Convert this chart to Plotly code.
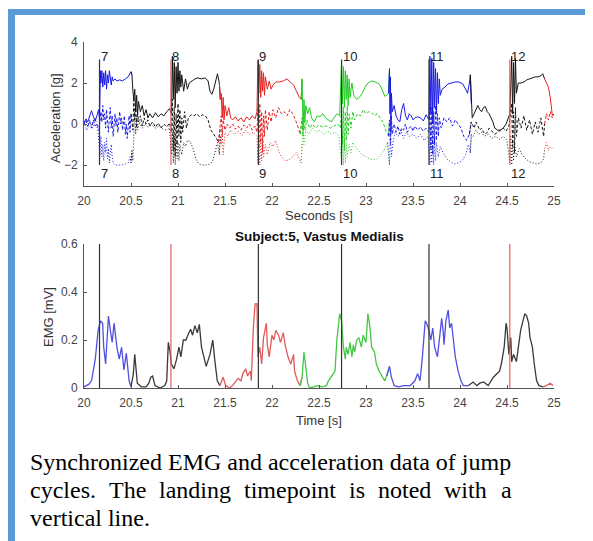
import plotly.graph_objects as go

# ---------------- data ----------------
seg_bounds = [20.0, 20.51, 21.45, 22.32, 23.25, 24.12, 24.91, 25.0]
acc_colors = ["#1a1ae6", "#151515", "#e62020", "#22cc22", "#1a1ae6", "#151515", "#e62020"]
emg_colors = ["#5050e0", "#3a3a3a", "#e05a5a", "#45c845", "#5050e0", "#3a3a3a", "#e05a5a"]

landing_times = [20.165, 20.925, 21.855, 22.74, 23.67, 24.53]
landing_colors = ["#333333", "#e06060", "#333333", "#333333", "#333333", "#e06060"]
jump_numbers = ["7", "8", "9", "10", "11", "12"]

acc_x_ticks = [20, 20.5, 21, 21.5, 22, 22.5, 23, 23.5, 24, 24.5, 25]
acc_x_ticktext = ["20", "20.5", "21", "21.5", "22", "22.5", "23", "23.5", "24", "24.5", "25"]
acc_y_ticks = [-2, 0, 2, 4]
emg_y_ticks = [0, 0.2, 0.4, 0.6]
emg_y_ticktext = ["0", "0.2", "0.4", "0.6"]

# acceleration, solid trace
acc_solid_t = [
    20.00, 20.02, 20.04, 20.06, 20.08, 20.10, 20.12, 20.14, 20.155, 20.165,
    20.175, 20.18, 20.19, 20.20, 20.21, 20.22, 20.23, 20.24, 20.25, 20.26,
    20.27, 20.28, 20.29, 20.30, 20.31, 20.33, 20.35, 20.38, 20.41, 20.44,
    20.47, 20.50, 20.51, 20.52, 20.53, 20.54, 20.55, 20.56, 20.57, 20.58,
    20.60, 20.62, 20.64, 20.66, 20.68, 20.70, 20.73, 20.76, 20.79, 20.82,
    20.85, 20.88, 20.91, 20.93, 20.94, 20.95, 20.96, 20.97, 20.98, 20.99,
    21.00, 21.01, 21.02, 21.03, 21.04, 21.06, 21.08, 21.10, 21.12, 21.15,
    21.18, 21.21, 21.25, 21.29, 21.32, 21.34, 21.36, 21.38, 21.40, 21.42,
    21.44, 21.45, 21.46, 21.47, 21.48, 21.49, 21.50, 21.52, 21.54, 21.56,
    21.58, 21.61, 21.64, 21.67, 21.70, 21.73, 21.76, 21.79, 21.82, 21.84,
    21.85, 21.86, 21.87, 21.88, 21.89, 21.90, 21.91, 21.92, 21.93, 21.95,
    21.97, 21.99, 22.01, 22.04, 22.08, 22.12, 22.16, 22.20, 22.23, 22.26,
    22.29, 22.31, 22.32, 22.325, 22.33, 22.34, 22.35, 22.36, 22.38, 22.40,
    22.42, 22.45, 22.48, 22.51, 22.54, 22.57, 22.60, 22.63, 22.66, 22.69,
    22.72, 22.74, 22.75, 22.76, 22.77, 22.78, 22.79, 22.80, 22.81, 22.82,
    22.83, 22.85, 22.87, 22.90, 22.93, 22.96, 22.99, 23.02, 23.06, 23.10,
    23.14, 23.17, 23.20, 23.22, 23.24, 23.25, 23.255, 23.26, 23.265, 23.27,
    23.28, 23.30, 23.32, 23.34, 23.36, 23.38, 23.40, 23.42, 23.44, 23.46,
    23.48, 23.50, 23.52, 23.55, 23.58, 23.61, 23.64, 23.67, 23.68, 23.69,
    23.70, 23.71, 23.72, 23.73, 23.74, 23.75, 23.76, 23.77, 23.78, 23.79,
    23.81, 23.84, 23.87, 23.91, 23.95, 23.99, 24.03, 24.06, 24.08, 24.10,
    24.11, 24.12, 24.13, 24.15, 24.17, 24.19, 24.21, 24.23, 24.25, 24.27,
    24.29, 24.31, 24.33, 24.35, 24.37, 24.40, 24.43, 24.46, 24.49, 24.51,
    24.53, 24.55, 24.56, 24.57, 24.58, 24.59, 24.60, 24.62, 24.65, 24.68,
    24.71, 24.74, 24.77, 24.80, 24.83, 24.86, 24.88, 24.90, 24.92, 24.94,
    24.96, 24.97, 24.98, 24.99, 25.00,
]
acc_solid_v = [
    0.05, 0.25, 0.10, 0.40, 0.65, 0.35, 0.15, 0.45, 0.70, 0.20,
    2.60, 2.00, 2.60, 1.80, 2.50, 1.90, 2.60, 1.70, 2.40, 2.00,
    2.60, 2.20, 1.90, 2.30, 2.10, 2.20, 2.10, 2.15, 2.10, 2.20,
    2.30, 2.55, 2.40, 1.60, 1.20, 1.70, 0.60, 1.40, 0.50, 1.10,
    0.60, 0.90, 0.40, 0.70, 0.30, 0.50, 0.30, 0.55, 0.35, 0.50,
    0.40, 0.60, 0.75, 0.50, 3.30, 1.20, 3.00, 0.80, 2.80, 1.50,
    3.00, 1.60, 2.60, 1.80, 2.40, 1.60, 2.20, 1.70, 2.00, 2.10,
    2.20, 2.25, 2.20, 2.25, 2.10, 1.60, 1.45, 1.70, 2.10, 2.45,
    2.00, 1.20, 1.50, 0.30, 1.30, 0.20, 0.90, 0.40, 0.80, 0.30,
    0.20, 0.35, 0.15, 0.30, 0.10, 0.35, 0.20, 0.40, 0.25, 0.60,
    3.10, 1.50, 2.90, 1.30, 2.60, 1.60, 2.50, 1.40, 2.30, 1.70,
    2.10, 1.70, 1.90, 2.05, 2.05, 2.10, 2.20, 2.05, 1.90, 1.60,
    1.30, 1.20, 2.20, 1.00, -0.30, 1.20, 0.10, 0.90, 0.50, 0.80,
    0.30, 0.10, 0.40, 0.35, 0.50, 0.30, 0.20, 0.10, 0.30, 0.50,
    0.40, 3.10, 1.00, 2.80, 0.80, 2.60, 1.20, 2.40, 0.90, 2.20,
    1.30, 2.00, 1.40, 1.20, 1.30, 1.50, 1.80, 2.00, 2.10, 2.05,
    1.95, 1.70, 1.35, 1.40, 1.50, 2.70, 0.50, 2.30, -0.40, 1.50,
    0.60, 0.90, 0.40, 0.20, 0.10, 0.70, 1.00, 0.40, 0.20, 0.50,
    0.40, 0.20, 0.30, 0.35, 0.30, 0.15, 0.45, 0.20, 3.30, 0.50,
    3.20, 0.00, 3.00, 0.80, 2.70, 0.50, 2.50, 1.00, 2.20, 1.40,
    1.70, 1.80, 1.95, 2.00, 2.05, 2.05, 1.95, 1.70, 1.50, 2.00,
    2.40, 1.00, 0.30, 0.50, 0.70, 0.90, 0.70, 0.60, 0.80, 0.85,
    0.60, 0.50, 0.30, 0.10, -0.20, -0.30, -0.30, -0.20, 0.00, 0.30,
    0.50, 3.30, 0.50, 3.00, 1.00, 3.20, 1.50, 2.00, 2.00, 2.05,
    2.15, 2.20, 2.25, 2.30, 2.30, 2.35, 2.45, 2.20, 2.00, 1.80,
    1.30, 0.80, 0.50, 0.40, 0.50,
]

# acceleration, dashed trace
acc_dash_t = [
    20.00, 20.02, 20.04, 20.06, 20.08, 20.10, 20.12, 20.14, 20.16, 20.18,
    20.19, 20.20, 20.21, 20.22, 20.23, 20.24, 20.25, 20.26, 20.27, 20.28,
    20.29, 20.30, 20.31, 20.32, 20.33, 20.34, 20.35, 20.36, 20.37, 20.38,
    20.39, 20.40, 20.41, 20.42, 20.43, 20.44, 20.45, 20.46, 20.47, 20.48,
    20.49, 20.50, 20.51, 20.52, 20.53, 20.54, 20.55, 20.56, 20.57, 20.58,
    20.60, 20.62, 20.64, 20.66, 20.68, 20.70, 20.73, 20.76, 20.79, 20.82,
    20.85, 20.88, 20.91, 20.93, 20.94, 20.95, 20.96, 20.97, 20.98, 20.99,
    21.00, 21.01, 21.02, 21.03, 21.04, 21.05, 21.07, 21.09, 21.11, 21.14,
    21.17, 21.20, 21.23, 21.26, 21.29, 21.32, 21.35, 21.38, 21.41, 21.43,
    21.45, 21.46, 21.47, 21.48, 21.50, 21.52, 21.55, 21.58, 21.61, 21.64,
    21.67, 21.70, 21.73, 21.76, 21.79, 21.82, 21.84, 21.85, 21.86, 21.87,
    21.88, 21.89, 21.90, 21.91, 21.92, 21.93, 21.95, 21.97, 21.99, 22.01,
    22.04, 22.07, 22.10, 22.13, 22.16, 22.19, 22.22, 22.25, 22.28, 22.30,
    22.32, 22.33, 22.34, 22.35, 22.37, 22.40, 22.43, 22.46, 22.50, 22.54,
    22.58, 22.62, 22.66, 22.70, 22.73, 22.74, 22.75, 22.76, 22.77, 22.78,
    22.79, 22.80, 22.81, 22.82, 22.84, 22.86, 22.88, 22.91, 22.94, 22.97,
    23.00, 23.03, 23.06, 23.09, 23.12, 23.15, 23.18, 23.21, 23.24, 23.25,
    23.26, 23.27, 23.28, 23.30, 23.32, 23.34, 23.36, 23.38, 23.40, 23.42,
    23.44, 23.46, 23.48, 23.50, 23.52, 23.55, 23.58, 23.61, 23.64, 23.67,
    23.68, 23.69, 23.70, 23.71, 23.72, 23.73, 23.74, 23.75, 23.76, 23.77,
    23.78, 23.80, 23.83, 23.86, 23.89, 23.92, 23.95, 23.98, 24.01, 24.04,
    24.07, 24.10, 24.12, 24.13, 24.15, 24.17, 24.19, 24.21, 24.23, 24.25,
    24.27, 24.29, 24.31, 24.33, 24.35, 24.37, 24.40, 24.43, 24.46, 24.49,
    24.52, 24.55, 24.56, 24.57, 24.58, 24.59, 24.60, 24.62, 24.65, 24.68,
    24.71, 24.74, 24.77, 24.80, 24.83, 24.86, 24.89, 24.90, 24.92, 24.94,
    24.96, 24.98, 25.00,
]
acc_dash_v = [
    0.00, 0.20, -0.10, 0.10, -0.20, 0.20, -0.10, 0.00, -0.30, 0.60,
    0.10, 0.90, 0.20, 0.50, -0.20, 0.70, 0.10, -0.40, 0.30, 0.80,
    -0.20, 0.40, -0.60, 0.10, 0.50, -0.10, 0.30, -0.40, 0.20, 0.60,
    0.00, 0.30, -0.30, 0.10, 0.40, -0.50, 0.00, -0.70, -0.20, 0.40,
    -0.40, 0.50, 0.10, -0.30, 1.30, 0.20, 0.90, -0.20, 0.60, 0.10,
    0.40, -0.10, 0.30, 0.00, 0.20, -0.10, 0.10, -0.15, 0.05, -0.20,
    0.00, -0.15, 0.05, -0.40, 1.20, -1.30, 0.80, -1.60, 0.50, -1.00,
    1.00, -0.60, 0.70, -0.90, 0.30, -0.40, 0.60, -0.20, 0.30, 0.45,
    0.40, 0.50, 0.35, 0.45, 0.40, 0.20, -0.30, -0.50, -0.70, -0.90,
    -0.20, 0.40, -0.60, 0.20, -0.30, 0.00, -0.20, 0.00, -0.25, -0.10,
    -0.30, -0.05, -0.20, 0.00, -0.30, -0.10, -0.40, 0.80, -1.20, 1.00,
    -0.90, 0.60, -1.40, 0.40, -0.60, 0.70, -0.30, 0.60, 0.10, 0.70,
    0.30, 0.80, 0.50, 0.60, 0.40, 0.70, 0.50, 0.20, -0.20, -0.50,
    0.30, -0.60, 0.40, -0.30, 0.20, -0.20, 0.00, -0.20, -0.05, -0.15,
    -0.10, -0.20, -0.10, 0.00, -0.20, 1.00, -1.00, 0.80, -1.30, 0.60,
    -0.80, 0.90, -0.50, 0.50, -0.20, 0.60, 0.20, 0.50, 0.40, 0.70,
    0.50, 0.60, 0.55, 0.40, 0.50, 0.30, 0.10, -0.30, -0.60, 0.20,
    -1.00, 0.40, -0.50, 0.00, -0.40, -0.10, -0.50, -0.20, -0.30, 0.00,
    -0.40, -0.20, -0.10, -0.35, -0.10, -0.30, -0.15, -0.35, -0.20, -0.40,
    1.00, -1.20, 0.80, -1.50, 0.60, -1.00, 0.90, -0.80, 0.50, -0.60,
    0.30, -0.20, 0.30, 0.10, 0.30, -0.10, 0.20, 0.00, -0.20, -0.60,
    -0.80, -0.50, 0.10, 0.00, -0.20, 0.10, -0.10, -0.30, -0.20, -0.40,
    -0.50, -0.40, -0.20, -0.30, -0.45, -0.50, -0.40, -0.30, -0.20, -0.35,
    -0.10, 1.00, -1.10, 0.60, -1.40, 0.80, -0.60, 0.30, -0.20, 0.40,
    -0.30, 0.20, -0.50, 0.10, -0.40, 0.30, -0.60, 0.00, 0.50, 0.20,
    0.60, 0.30, 0.40,
]

# acceleration, dotted trace
acc_dot_t = [
    20.00, 20.03, 20.06, 20.09, 20.12, 20.15, 20.17, 20.18, 20.19, 20.20,
    20.21, 20.22, 20.23, 20.24, 20.25, 20.26, 20.27, 20.28, 20.29, 20.30,
    20.31, 20.33, 20.36, 20.40, 20.44, 20.47, 20.49, 20.50, 20.51, 20.52,
    20.53, 20.54, 20.55, 20.56, 20.57, 20.59, 20.62, 20.65, 20.68, 20.72,
    20.76, 20.80, 20.84, 20.88, 20.91, 20.93, 20.94, 20.95, 20.96, 20.97,
    20.98, 20.99, 21.00, 21.01, 21.02, 21.04, 21.06, 21.08, 21.10, 21.13,
    21.16, 21.19, 21.22, 21.26, 21.30, 21.34, 21.37, 21.40, 21.42, 21.44,
    21.45, 21.46, 21.47, 21.48, 21.50, 21.53, 21.56, 21.60, 21.64, 21.68,
    21.72, 21.76, 21.80, 21.84, 21.85, 21.86, 21.87, 21.88, 21.89, 21.90,
    21.91, 21.93, 21.95, 21.98, 22.01, 22.04, 22.07, 22.10, 22.14, 22.18,
    22.22, 22.26, 22.29, 22.31, 22.32, 22.33, 22.34, 22.36, 22.39, 22.43,
    22.47, 22.51, 22.55, 22.59, 22.63, 22.67, 22.71, 22.74, 22.75, 22.76,
    22.77, 22.78, 22.79, 22.80, 22.82, 22.84, 22.86, 22.89, 22.92, 22.96,
    23.00, 23.04, 23.08, 23.12, 23.16, 23.20, 23.23, 23.25, 23.26, 23.27,
    23.29, 23.31, 23.34, 23.37, 23.40, 23.43, 23.46, 23.50, 23.54, 23.58,
    23.62, 23.66, 23.68, 23.69, 23.70, 23.71, 23.72, 23.73, 23.74, 23.75,
    23.77, 23.79, 23.82, 23.86, 23.90, 23.94, 23.98, 24.02, 24.06, 24.09,
    24.11, 24.12, 24.14, 24.17, 24.20, 24.23, 24.26, 24.30, 24.34, 24.38,
    24.42, 24.46, 24.50, 24.53, 24.54, 24.55, 24.56, 24.57, 24.58, 24.60,
    24.63, 24.66, 24.70, 24.74, 24.78, 24.82, 24.86, 24.89, 24.90, 24.92,
    24.94, 24.96, 24.98, 25.00,
]
acc_dot_v = [
    0.10, -0.30, 0.20, -0.20, 0.30, -0.40, -1.50, -0.60, -1.60, -1.00,
    -1.80, -0.90, -1.40, -0.70, -1.70, -1.20, -1.90, -1.40, -1.00, -1.60,
    -1.90, -2.00, -2.00, -2.00, -1.95, -1.90, -1.60, -1.90, -1.30, -1.80,
    -0.90, 0.60, -0.50, 0.30, -0.30, 0.10, -0.20, 0.00, -0.15, -0.05,
    -0.20, -0.10, -0.25, -0.30, -0.20, -1.50, -0.40, -1.90, -0.60, -2.00,
    -0.80, -1.70, -0.90, -1.80, -1.00, -1.50, -0.90, -1.10, -0.80, -0.85,
    -1.20, -1.70, -1.95, -2.00, -2.00, -1.95, -1.80, -1.30, -0.90, -1.50,
    -0.60, -1.00, -0.20, -1.50, -0.40, -0.60, -0.30, -0.50, -0.35, -0.55,
    -0.30, -0.50, -0.40, -0.60, -1.90, -0.50, -2.00, -0.80, -1.80, -0.60,
    -1.60, -1.00, -1.50, -0.90, -1.10, -0.80, -1.30, -1.60, -1.80, -1.75,
    -1.60, -1.40, -1.70, -1.90, -0.90, -0.20, -1.00, -0.30, -0.50, -0.20,
    -0.40, -0.30, -0.50, -0.35, -0.50, -0.40, -0.60, -1.80, -0.40, -2.00,
    -0.70, -1.90, -0.90, -1.60, -1.00, -1.40, -0.90, -1.10, -1.30, -1.50,
    -1.60, -1.70, -1.75, -1.70, -1.50, -1.20, -0.90, -2.00, -0.30, -1.60,
    -0.80, -0.40, -0.60, -0.30, -0.70, -0.40, -0.60, -0.50, -0.70, -0.50,
    -0.80, -0.60, -2.00, -0.30, -1.90, -0.50, -2.00, -0.70, -1.80, -0.90,
    -1.60, -1.10, -1.40, -1.70, -1.85, -1.95, -1.90, -1.80, -1.50, -1.00,
    -1.40, -0.50, -0.60, -0.30, -0.50, -0.40, -0.60, -0.50, -0.70, -0.60,
    -0.75, -0.60, -0.80, -1.90, -0.60, -2.00, -0.80, -1.80, -1.00, -1.60,
    -1.20, -1.50, -1.70, -1.85, -1.90, -1.95, -1.90, -1.70, -1.20, -0.90,
    -1.30, -1.10, -1.20, -1.15,
]

# EMG envelope
emg_t = [
    20.00, 20.02, 20.05, 20.08, 20.10, 20.12, 20.15, 20.177, 20.198, 20.21,
    20.23, 20.26, 20.28, 20.30, 20.32, 20.35, 20.375, 20.40, 20.425, 20.45,
    20.48, 20.50, 20.525, 20.54, 20.567, 20.61, 20.66, 20.69, 20.71, 20.73,
    20.755, 20.81, 20.86, 20.88, 20.897, 20.915, 20.93, 20.957, 20.985, 21.01,
    21.03, 21.057, 21.085, 21.11, 21.134, 21.155, 21.18, 21.205, 21.227, 21.25,
    21.276, 21.30, 21.34, 21.37, 21.393, 21.418, 21.446, 21.48, 21.507, 21.55,
    21.58, 21.61, 21.64, 21.67, 21.69, 21.72, 21.74, 21.77, 21.78, 21.80,
    21.82, 21.84, 21.85, 21.87, 21.89, 21.91, 21.94, 21.95, 21.97, 22.00,
    22.02, 22.04, 22.07, 22.09, 22.12, 22.14, 22.17, 22.20, 22.23, 22.24,
    22.27, 22.30, 22.32, 22.34, 22.36, 22.38, 22.40, 22.45, 22.49, 22.53,
    22.58, 22.60, 22.63, 22.67, 22.69, 22.72, 22.74, 22.76, 22.78, 22.79,
    22.81, 22.83, 22.85, 22.865, 22.88, 22.90, 22.925, 22.95, 22.97, 23.00,
    23.02, 23.04, 23.06, 23.09, 23.11, 23.14, 23.17, 23.20, 23.22, 23.25,
    23.27, 23.30, 23.35, 23.40, 23.47, 23.52, 23.55, 23.575, 23.60, 23.63,
    23.645, 23.67, 23.69, 23.71, 23.73, 23.76, 23.78, 23.805, 23.82, 23.83,
    23.85, 23.875, 23.89, 23.91, 23.93, 23.95, 23.98, 24.01, 24.035, 24.09,
    24.14, 24.18, 24.21, 24.25, 24.30, 24.355, 24.39, 24.42, 24.44, 24.47,
    24.49, 24.50, 24.52, 24.54, 24.55, 24.57, 24.60, 24.62, 24.645, 24.67,
    24.69, 24.71, 24.73, 24.745, 24.77, 24.79, 24.815, 24.84, 24.885, 24.92,
    24.96, 24.99,
]
emg_v = [
    0.005, 0.010, 0.015, 0.030, 0.070, 0.120, 0.240, 0.280, 0.270, 0.170,
    0.100, 0.300, 0.240, 0.190, 0.270, 0.170, 0.120, 0.170, 0.075, 0.145,
    0.030, 0.005, 0.060, 0.140, 0.020, 0.005, 0.005, 0.020, 0.045, 0.050,
    0.010, 0.000, 0.010, 0.030, 0.190, 0.150, 0.100, 0.080, 0.120, 0.170,
    0.130, 0.200, 0.200, 0.225, 0.245, 0.220, 0.260, 0.230, 0.265, 0.170,
    0.130, 0.090, 0.140, 0.200, 0.110, 0.030, 0.010, 0.045, 0.010, 0.000,
    0.010, 0.026, 0.040, 0.030, 0.060, 0.080, 0.050, 0.070, 0.030, 0.240,
    0.350, 0.350, 0.130, 0.170, 0.100, 0.210, 0.270, 0.180, 0.130, 0.220,
    0.200, 0.240, 0.220, 0.190, 0.230, 0.180, 0.130, 0.100, 0.140, 0.070,
    0.030, 0.010, 0.045, 0.150, 0.090, 0.020, 0.000, 0.005, 0.010, 0.005,
    0.010, 0.030, 0.045, 0.070, 0.200, 0.310, 0.280, 0.170, 0.120, 0.170,
    0.140, 0.190, 0.130, 0.180, 0.150, 0.200, 0.210, 0.170, 0.220, 0.190,
    0.310, 0.260, 0.170, 0.150, 0.100, 0.070, 0.050, 0.030, 0.050, 0.090,
    0.045, 0.010, 0.005, 0.010, 0.010, 0.030, 0.060, 0.030, 0.130, 0.280,
    0.270, 0.240, 0.200, 0.250, 0.170, 0.130, 0.200, 0.290, 0.240, 0.180,
    0.280, 0.325, 0.250, 0.270, 0.200, 0.130, 0.070, 0.030, 0.010, 0.010,
    0.025, 0.010, 0.020, 0.025, 0.010, 0.045, 0.060, 0.070, 0.100, 0.170,
    0.270, 0.250, 0.140, 0.210, 0.110, 0.140, 0.110, 0.170, 0.240, 0.280,
    0.310, 0.300, 0.270, 0.210, 0.170, 0.100, 0.030, 0.010, 0.005, 0.010,
    0.020, 0.010,
]

caption_line1 = "Synchronized EMG and acceleration data of jump"
caption_line2_words = ["cycles.", "The", "landing", "timepoint", "is", "noted", "with", "a"]
caption_line2_x = [28, 107, 157, 242, 347, 376, 442, 499]
caption_line3 = "vertical line."

assert len(acc_solid_t) == len(acc_solid_v), (len(acc_solid_t), len(acc_solid_v))
assert len(acc_dash_t) == len(acc_dash_v), (len(acc_dash_t), len(acc_dash_v))
assert len(acc_dot_t) == len(acc_dot_v), (len(acc_dot_t), len(acc_dot_v))
assert len(emg_t) == len(emg_v), (len(emg_t), len(emg_v))

# ---------------- figure ----------------
# the page body has an 8px default margin, so the figure is placed 8px in
OFF = 8
W, H = 593 - OFF, 541 - OFF


def px_x(x):
    return (x - OFF) / W


def px_y(y):
    return 1 - (y - OFF) / H


def split(t, v, bounds):
    parts = []
    for i in range(len(bounds) - 1):
        a, b = bounds[i], bounds[i + 1]
        idx = [k for k in range(len(t)) if a <= t[k] <= b]
        if idx and idx[0] > 0:
            idx = [idx[0] - 1] + idx
        parts.append(([t[k] for k in idx], [v[k] for k in idx]))
    return parts


fig = go.Figure()

series = [(acc_solid_t, acc_solid_v, "solid"),
          (acc_dash_t, acc_dash_v, "3px,2px"),
          (acc_dot_t, acc_dot_v, "1px,2px")]
for t, v, dash in series:
    for (st, sv), col in zip(split(t, v, seg_bounds), acc_colors):
        fig.add_trace(go.Scatter(x=st, y=sv, mode="lines", xaxis="x", yaxis="y",
                                 line=dict(color=col, width=1, dash=dash),
                                 hoverinfo="skip", showlegend=False))

for (st, sv), col in zip(split(emg_t, emg_v, seg_bounds), emg_colors):
    fig.add_trace(go.Scatter(x=st, y=sv, mode="lines", xaxis="x2", yaxis="y2",
                             line=dict(color=col, width=1.3),
                             hoverinfo="skip", showlegend=False))

shapes = []
annotations = []
for lt, lc, num in zip(landing_times, landing_colors, jump_numbers):
    shapes.append(dict(type="line", xref="x", yref="y", x0=lt, x1=lt, y0=-2.0, y1=3.15,
                       line=dict(color=lc, width=1.2)))
    shapes.append(dict(type="line", xref="x2", yref="y2", x0=lt, x1=lt, y0=0, y1=0.6,
                       line=dict(color=lc, width=1.2)))
    for yv in (3.3, -2.42):
        annotations.append(dict(x=lt, y=yv, xref="x", yref="y", text=num, showarrow=False,
                                xanchor="left", yanchor="middle", xshift=-1,
                                font=dict(family="Liberation Sans", size=13, color="#222222")))

# blue frame
frame_blue = "#5b9bd5"
shapes.append(dict(type="rect", xref="paper", yref="paper", x0=px_x(8), x1=1.0,
                   y0=px_y(15), y1=px_y(9), fillcolor=frame_blue, line=dict(width=0), layer="below"))
shapes.append(dict(type="rect", xref="paper", yref="paper", x0=px_x(8), x1=px_x(15),
                   y0=0, y1=px_y(9), fillcolor=frame_blue, line=dict(width=0), layer="below"))

lab_font = dict(family="Liberation Sans", size=13, color="#333333")
annotations += [
    dict(x=px_x(319), y=px_y(215), xref="paper", yref="paper", text="Seconds [s]",
         showarrow=False, xanchor="center", yanchor="middle", font=lab_font),
    dict(x=px_x(55), y=px_y(118), xref="paper", yref="paper", text="Acceleration [g]",
         showarrow=False, textangle=-90, xanchor="center", yanchor="middle", font=lab_font),
    dict(x=px_x(319), y=px_y(420), xref="paper", yref="paper", text="Time [s]",
         showarrow=False, xanchor="center", yanchor="middle", font=lab_font),
    dict(x=px_x(48), y=px_y(317), xref="paper", yref="paper", text="EMG [mV]",
         showarrow=False, textangle=-90, xanchor="center", yanchor="middle", font=lab_font),
    dict(x=px_x(319), y=px_y(236), xref="paper", yref="paper",
         text="<b>Subject:5, Vastus Medialis</b>", showarrow=False,
         xanchor="center", yanchor="middle",
         font=dict(family="Liberation Sans", size=13.5, color="#111111")),
]

cap_font = dict(family="Liberation Serif", size=24, color="#000000")
annotations.append(dict(x=px_x(28), y=px_y(462), xref="paper", yref="paper", text=caption_line1,
                        showarrow=False, xanchor="left", yanchor="middle", font=cap_font))
for w, xx in zip(caption_line2_words, caption_line2_x):
    annotations.append(dict(x=px_x(xx), y=px_y(490), xref="paper", yref="paper", text=w,
                            showarrow=False, xanchor="left", yanchor="middle", font=cap_font))
annotations.append(dict(x=px_x(28), y=px_y(518), xref="paper", yref="paper", text=caption_line3,
                        showarrow=False, xanchor="left", yanchor="middle", font=cap_font))

tick_font = dict(family="Liberation Sans", size=12, color="#444444")
xdom = [px_x(84), px_x(554)]
common_x = dict(range=[20, 25], tickvals=acc_x_ticks, ticktext=acc_x_ticktext, ticks="inside",
                ticklen=3, tickcolor="#555555", showline=True, linecolor="#555555", linewidth=1,
                showgrid=False, zeroline=False, tickfont=tick_font, automargin=False,
                ticklabelstandoff=4, fixedrange=True)
common_y = dict(ticks="inside", ticklen=3, tickcolor="#555555", showline=True,
                linecolor="#555555", linewidth=1, showgrid=False, zeroline=False,
                tickfont=tick_font, automargin=False, ticklabelstandoff=3, fixedrange=True)

fig.update_layout(
    width=W, height=H,
    margin=dict(l=0, r=0, t=0, b=0),
    paper_bgcolor="white", plot_bgcolor="white",
    showlegend=False,
    xaxis=dict(domain=xdom, anchor="y", **common_x),
    yaxis=dict(domain=[px_y(185.5), px_y(42)], range=[-3, 4], tickvals=acc_y_ticks,
               anchor="x", **common_y),
    xaxis2=dict(domain=xdom, anchor="y2", **common_x),
    yaxis2=dict(domain=[px_y(388), px_y(244)], range=[0, 0.6], tickvals=emg_y_ticks,
                ticktext=emg_y_ticktext, anchor="x2", **common_y),
    shapes=shapes,
    annotations=annotations,
)

fig.write_html("out.html")
